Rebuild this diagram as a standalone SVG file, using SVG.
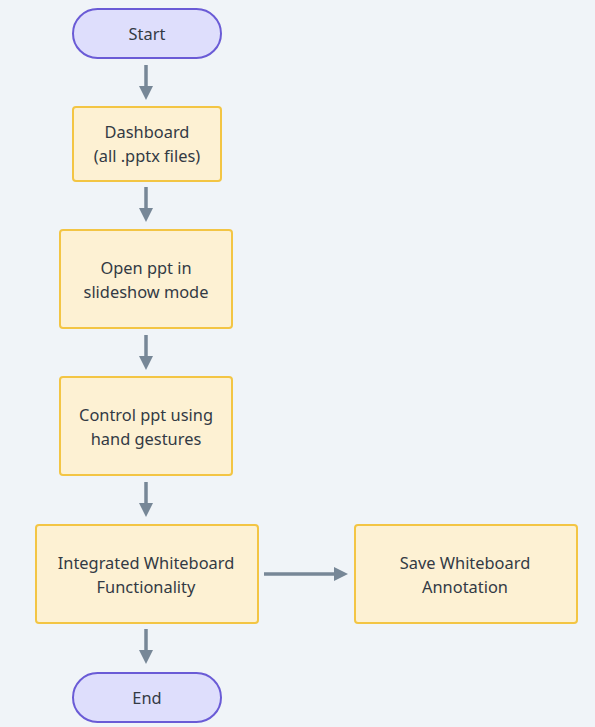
<svg xmlns="http://www.w3.org/2000/svg" width="595" height="727" viewBox="0 0 595 727">
<style>
.term{fill:#dedefc;stroke:#6a5bd6;stroke-width:2}
.box{fill:#fdf1d3;stroke:#f3c544;stroke-width:2}
.t{font-family:"Noto Sans","Liberation Sans",sans-serif;font-size:16.4px;fill:#333a44;text-anchor:middle}
.c{stroke:#778797;stroke-width:3.5;fill:none;marker-end:url(#ah)}
</style>
<defs>
<marker id="ah" markerWidth="4" markerHeight="4" refX="2" refY="2" orient="auto" markerUnits="strokeWidth">
<path d="M0,0 L4,2 L0,4 Z" fill="#778797"/>
</marker>
</defs>
<rect width="595" height="727" fill="#f0f4f8"/>
<g id="connectors">
<line class="c" x1="146" y1="65" x2="146" y2="93"/>
<line class="c" x1="146" y1="187" x2="146" y2="215"/>
<line class="c" x1="146" y1="335" x2="146" y2="363"/>
<line class="c" x1="146" y1="482" x2="146" y2="510"/>
<line class="c" x1="264" y1="574" x2="341" y2="574"/>
<line class="c" x1="146" y1="629" x2="146" y2="657"/>
</g>
<g id="start">
<rect class="term" x="73" y="9" width="148" height="49" rx="24.5"/>
<text class="t" x="147" y="40">Start</text>
</g>
<g id="dashboard">
<rect class="box" x="73" y="107" width="148" height="74" rx="3"/>
<text class="t" x="147" y="138">Dashboard</text>
<text class="t" x="147" y="162">(all .pptx files)</text>
</g>
<g id="open">
<rect class="box" x="60" y="230" width="172" height="98" rx="3"/>
<text class="t" x="146" y="274">Open ppt in</text>
<text class="t" x="146" y="298">slideshow mode</text>
</g>
<g id="control">
<rect class="box" x="60" y="377" width="172" height="98" rx="3"/>
<text class="t" x="146" y="421">Control ppt using</text>
<text class="t" x="146" y="445">hand gestures</text>
</g>
<g id="whiteboard">
<rect class="box" x="36" y="525" width="222" height="98" rx="3"/>
<text class="t" x="146" y="569">Integrated Whiteboard</text>
<text class="t" x="146" y="593">Functionality</text>
</g>
<g id="save">
<rect class="box" x="355" y="525" width="222" height="98" rx="3"/>
<text class="t" x="465" y="569">Save Whiteboard</text>
<text class="t" x="465" y="593">Annotation</text>
</g>
<g id="end">
<rect class="term" x="73" y="673" width="148" height="49" rx="24.5"/>
<text class="t" x="147" y="704">End</text>
</g>
</svg>
